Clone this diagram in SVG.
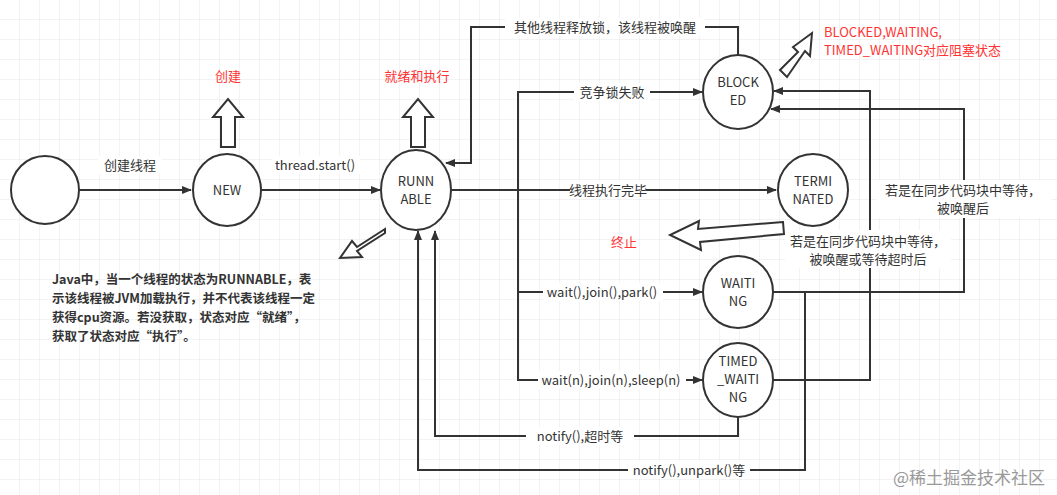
<svg xmlns="http://www.w3.org/2000/svg" width="1057" height="495" viewBox="0 0 1057 495">
<style>
text{font-family:"Microsoft YaHei","Noto Sans CJK SC",sans-serif;font-size:13px;fill:#333}
.n{fill:#fff;stroke:#333;stroke-width:2}
.c{fill:none;stroke:#333;stroke-width:2}
.l{text-anchor:middle}
.r{fill:#ff3333}
.b{fill:#fff;stroke:#333;stroke-width:2}
.lb{fill:#fff}
</style>
<defs>
<pattern id="g" width="20" height="20" patternUnits="userSpaceOnUse"><path d="M20 0V20H0" fill="none" stroke="#e6e6e6" stroke-width="1"/></pattern>
<marker id="a" markerWidth="10" markerHeight="8" refX="9" refY="4" orient="auto" markerUnits="userSpaceOnUse"><path d="M0 0L10 4L0 8z" fill="#333"/></marker>
</defs>
<rect width="1057" height="495" fill="#fff"/>
<rect width="1057" height="495" fill="url(#g)"/>
<g id="connectors">
<path class="c" d="M78 190H191" marker-end="url(#a)"/>
<path class="c" d="M261 190H380" marker-end="url(#a)"/>
<path class="c" d="M738 55V27H471V163H446" marker-end="url(#a)"/>
<path class="c" d="M451 190H776" marker-end="url(#a)"/>
<path class="c" d="M518 190V92H702" marker-end="url(#a)"/>
<path class="c" d="M518 190V292H702" marker-end="url(#a)"/>
<path class="c" d="M518 292V380H702" marker-end="url(#a)"/>
<path class="c" d="M773 380H870V91H774" marker-end="url(#a)"/>
<path class="c" d="M773 292H964V109H771" marker-end="url(#a)"/>
<path class="c" d="M773 292H805V470H418V231" marker-end="url(#a)"/>
<path class="c" d="M738 417V436H435V231" marker-end="url(#a)"/>
<rect class="lb" x="98" y="156" width="64" height="18"/><text class="l" x="130" y="170">创建线程</text>
<rect class="lb" x="272" y="156" width="88" height="18"/><text class="l" x="315" y="170">thread.start()</text>
<rect class="lb" x="505" y="18" width="200" height="18"/><text class="l" x="605" y="32">其他线程释放锁，该线程被唤醒</text>
<rect class="lb" x="574" y="83" width="76" height="18"/><text class="l" x="612" y="97">竞争锁失败</text>
<rect class="lb" x="570" y="181" width="76" height="18"/><text class="l" x="608" y="195">线程执行完毕</text>
<rect class="lb" x="543" y="283" width="120" height="18"/><text class="l" x="602" y="297">wait(),join(),park()</text>
<rect class="lb" x="538" y="371" width="148" height="18"/><text class="l" x="611" y="385">wait(n),join(n),sleep(n)</text>
<rect class="lb" x="526" y="427" width="108" height="18"/><text class="l" x="580" y="441">notify(),超时等</text>
<rect class="lb" x="628" y="461" width="122" height="18"/><text class="l" x="689" y="475">notify(),unpark()等</text>
<rect class="lb" x="876" y="180" width="176" height="38"/><text class="l" x="963" y="195">若是在同步代码块中等待，</text><text class="l" x="963" y="213">被唤醒后</text>
<rect class="lb" x="785" y="230" width="166" height="38"/><text class="l" x="868" y="246">若是在同步代码块中等待，</text><text class="l" x="868" y="264">被唤醒或等待超时后</text>
</g>
<g id="start"><circle class="n" cx="45" cy="190" r="34"/></g>
<g id="new"><ellipse class="n" cx="227" cy="190" rx="34" ry="36"/><text class="l" x="227" y="195">NEW</text></g>
<g id="runnable"><ellipse class="n" cx="416" cy="190" rx="35" ry="40"/><text class="l" x="416" y="186">RUNN</text><text class="l" x="416" y="204">ABLE</text></g>
<g id="blocked"><ellipse class="n" cx="738" cy="92" rx="35" ry="37"/><text class="l" x="738" y="87">BLOCK</text><text class="l" x="738" y="105">ED</text></g>
<g id="terminated"><ellipse class="n" cx="813" cy="190" rx="35" ry="36"/><text class="l" x="813" y="186">TERMI</text><text class="l" x="813" y="204">NATED</text></g>
<g id="waiting"><ellipse class="n" cx="738" cy="292" rx="35" ry="36"/><text class="l" x="738" y="288">WAITI</text><text class="l" x="738" y="306">NG</text></g>
<g id="timed"><ellipse class="n" cx="738" cy="380" rx="35" ry="37"/><text class="l" x="738" y="366">TIMED</text><text class="l" x="738" y="384">_WAITI</text><text class="l" x="738" y="402">NG</text></g>
<g id="hollow-arrows">
<path class="b" d="M221 147V117H213L228 99L243 117H235V147Z"/>
<path class="b" d="M411 147V117H403L418 99L433 117H425V147Z"/>
<path class="b" d="M780 70L798 52L793 47L812 33L810 56L805 51L787 77Z"/>
<path class="b" d="M783 222L698 229L699 221L670 235L701 250L700 242L784 234Z"/>
<path class="b" d="M385 229L357 247L352 241L340 258L362 257L357 251L385 233Z"/>
</g>
<g id="notes">
<text class="l r" x="228" y="81">创建</text>
<text class="l r" x="417" y="81">就绪和执行</text>
<text class="r" x="824" y="37">BLOCKED,WAITING,</text>
<text class="r" x="824" y="55">TIMED_WAITING对应阻塞状态</text>
<text class="l r" x="624" y="247">终止</text>
<text x="52" y="284" font-weight="bold" style="font-size:12.5px">Java中，当一个线程的状态为RUNNABLE，表</text>
<text x="52" y="303" font-weight="bold" style="font-size:12.5px">示该线程被JVM加载执行，并不代表该线程一定</text>
<text x="52" y="322" font-weight="bold" style="font-size:12.5px">获得cpu资源。若没获取，状态对应“就绪”，</text>
<text x="52" y="341" font-weight="bold" style="font-size:12.5px">获取了状态对应“执行”。</text>
<text x="893" y="484" style="font-size:17px;fill:#999">@稀土掘金技术社区</text>
</g>
</svg>
